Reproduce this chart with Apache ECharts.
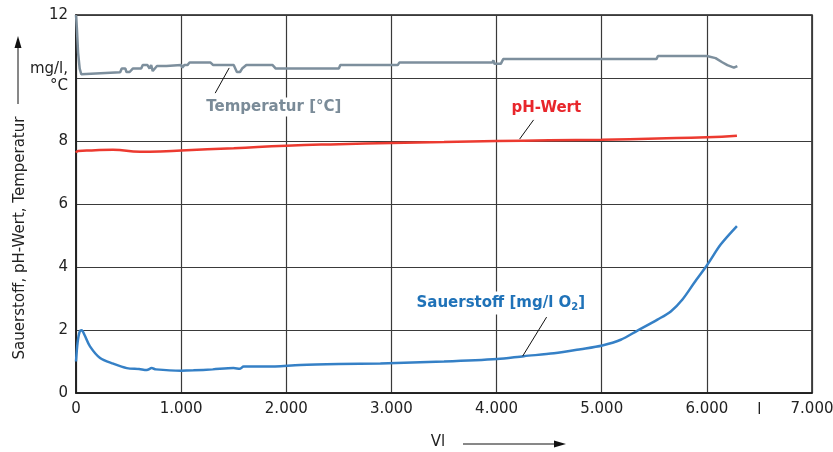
<!DOCTYPE html>
<html>
<head>
<meta charset="utf-8">
<script src="https://cdn.jsdelivr.net/npm/echarts@6/dist/echarts.min.js"></script>
<title>Sauerstoff, pH-Wert, Temperatur</title>
<style>
  html, body { margin: 0; padding: 0; background: #fff; }
</style>
</head>
<body>
<div id="main" style="width:833px;height:452px;"></div>
<script type="text/javascript">
// x values in litres
var xTicks = [0, 1000, 2000, 3000, 4000, 5000, 6000, 7000];
var yTicks = [0, 2, 4, 6, 8, 10, 12];

var temperatur = [
  [0, 12.0], [8, 11.6], [20, 10.8], [35, 10.3], [50, 10.12], [65, 10.18],
  [420, 10.18], [435, 10.3], [470, 10.3], [480, 10.19], [510, 10.19], [540, 10.3],
  [620, 10.3], [635, 10.41], [680, 10.41], [700, 10.3], [715, 10.41], [730, 10.22],
  [745, 10.22], [770, 10.38], [860, 10.38], [870, 10.41], [1000, 10.41], [1010, 10.33],
  [1030, 10.41], [1060, 10.41], [1080, 10.49], [1280, 10.49], [1305, 10.41], [1500, 10.41],
  [1530, 10.19], [1560, 10.19], [1580, 10.3], [1620, 10.41], [1870, 10.41], [1900, 10.3],
  [2500, 10.3], [2514, 10.41], [3060, 10.41], [3075, 10.49], [3960, 10.49], [3970, 10.56],
  [3980, 10.45], [4040, 10.45], [4063, 10.6], [5520, 10.6], [5535, 10.7], [6000, 10.7],
  [6083, 10.63], [6146, 10.5], [6195, 10.41], [6257, 10.33], [6290, 10.38]
];

var phWert = [
  [0, 7.63], [20, 7.68], [150, 7.70], [350, 7.72], [610, 7.66], [800, 7.67],
  [1000, 7.70], [1500, 7.77], [2000, 7.85], [2500, 7.90], [3000, 7.94], [3500, 7.97],
  [4000, 8.0], [4500, 8.02], [5000, 8.04], [5530, 8.08], [6000, 8.12], [6286, 8.17]
];

var sauerstoff = [
  [0, 1.0], [15, 1.6], [35, 1.95], [54, 1.99], [80, 1.85], [133, 1.48], [229, 1.11],
  [355, 0.93], [483, 0.79], [600, 0.76], [673, 0.73], [720, 0.79], [760, 0.75],
  [1000, 0.71], [1117, 0.72], [1300, 0.75], [1498, 0.79], [1560, 0.77], [1594, 0.84],
  [1816, 0.84], [2133, 0.89], [2500, 0.92], [2895, 0.94], [3500, 1.0], [4006, 1.08],
  [4260, 1.17], [4546, 1.26], [4800, 1.39], [5006, 1.51], [5181, 1.69], [5340, 1.98],
  [5530, 2.33], [5657, 2.59], [5768, 2.97], [5880, 3.5], [6006, 4.08], [6133, 4.72],
  [6286, 5.3]
];

// label anchors (data coords): text position, leader line start/end
var labelTemp = { text: [1210, 9.08], from: [1324, 9.52], to: [1457, 10.32] };
var labelPh = { text: [4114, 9.05], from: [4352, 8.67], to: [4219, 8.06] };
var labelO2 = { text: [3210, 2.86], from: [4476, 2.41], to: [4248, 1.17] };

var FONT = 'DejaVu Sans';
var myChart = echarts.init(document.getElementById('main'));

var option = {
  animation: false,
  backgroundColor: '#fff',
  grid: {
    left: 76, right: 21, top: 15, bottom: 59,
    outerBoundsMode: 'none',
    show: true, borderColor: '#1a1a1a', borderWidth: 1.5
  },
  xAxis: {
    type: 'value',
    min: xTicks[0], max: xTicks[xTicks.length - 1], interval: 1000,
    axisLine: { lineStyle: { color: '#1a1a1a', width: 1.5 } },
    axisTick: { show: false },
    axisLabel: {
      color: '#222', fontFamily: FONT, fontSize: 15, margin: 9,
      formatter: function (v) { return v === 0 ? '0' : (v / 1000) + '.000'; }
    },
    splitLine: { lineStyle: { color: '#3a3a3a', width: 1.2 } }
  },
  yAxis: {
    type: 'value',
    min: yTicks[0], max: yTicks[yTicks.length - 1], interval: 2,
    axisLine: { show: true, lineStyle: { color: '#1a1a1a', width: 1.5 } },
    axisTick: { show: false },
    axisLabel: {
      color: '#222', fontFamily: FONT, fontSize: 15, margin: 8, lineHeight: 17,
      formatter: function (v) { return v === 10 ? 'mg/l,\n°C' : String(v); }
    },
    splitLine: { lineStyle: { color: '#3a3a3a', width: 1.2 } }
  },
  series: [
    {
      name: 'Temperatur [°C]', type: 'line', data: temperatur,
      showSymbol: false, lineStyle: { color: '#7d8f9d', width: 2.5 }, z: 3
    },
    {
      name: 'pH-Wert', type: 'line', data: phWert, smooth: true,
      showSymbol: false, lineStyle: { color: '#ec3a30', width: 2.5 }, z: 3
    },
    {
      name: 'Sauerstoff [mg/l O2]', type: 'line', data: sauerstoff, smooth: 0.3,
      showSymbol: false, lineStyle: { color: '#3580c6', width: 2.5 }, z: 3
    }
  ]
};
myChart.setOption(option);

function px(p) { return myChart.convertToPixel({ gridIndex: 0 }, p); }

function annot(lbl, text, color, rich) {
  var t = px(lbl.text), a = px(lbl.from), b = px(lbl.to);
  return [
    {
      type: 'line', z: 50,
      shape: { x1: a[0], y1: a[1], x2: b[0], y2: b[1] },
      style: { stroke: '#111', lineWidth: 1 }
    },
    {
      type: 'text', z: 60, x: t[0], y: t[1],
      style: {
        text: text, fill: color, font: 'bold 15px ' + FONT,
        align: 'left', verticalAlign: 'middle',
        backgroundColor: '#fff', padding: [2, 3, 2, 3], rich: rich || {}
      }
    }
  ];
}

var axisRight = px([6500, 0]);
var graphics = []
  .concat(annot(labelTemp, 'Temperatur [°C]', '#7a8b98'))
  .concat(annot(labelPh, 'pH-Wert', '#e8262b'))
  .concat(annot(labelO2, 'Sauerstoff [mg/l O{s|2}]', '#1f72b8', {
    s: { fontSize: 10, fontWeight: 'bold', fontFamily: FONT, fill: '#1f72b8', padding: [9, 0, 0, 0] }
  }))
  .concat([
    // unit for x axis
    { type: 'text', x: axisRight[0], y: 410, style: { text: 'l', font: '15px ' + FONT, fill: '#222', align: 'center', verticalAlign: 'middle' } },
    // x axis title with arrow
    { type: 'text', x: 438, y: 442, style: { text: 'Vl', font: '15px ' + FONT, fill: '#222', align: 'center', verticalAlign: 'middle' } },
    { type: 'line', shape: { x1: 463, y1: 444, x2: 556, y2: 444 }, style: { stroke: '#111', lineWidth: 1 } },
    { type: 'polygon', shape: { points: [[566, 444], [554, 440.5], [554, 447.5]] }, style: { fill: '#111' } },
    // y axis title with arrow
    { type: 'text', x: 20, y: 238, rotation: Math.PI / 2, style: { text: 'Sauerstoff, pH-Wert, Temperatur', font: '15px ' + FONT, fill: '#222', align: 'center', verticalAlign: 'middle' } },
    { type: 'line', shape: { x1: 18, y1: 104, x2: 18, y2: 46 }, style: { stroke: '#111', lineWidth: 1 } },
    { type: 'polygon', shape: { points: [[18, 36], [14.5, 48], [21.5, 48]] }, style: { fill: '#111' } }
  ]);

myChart.setOption({ graphic: { elements: graphics } });
</script>
</body>
</html>
